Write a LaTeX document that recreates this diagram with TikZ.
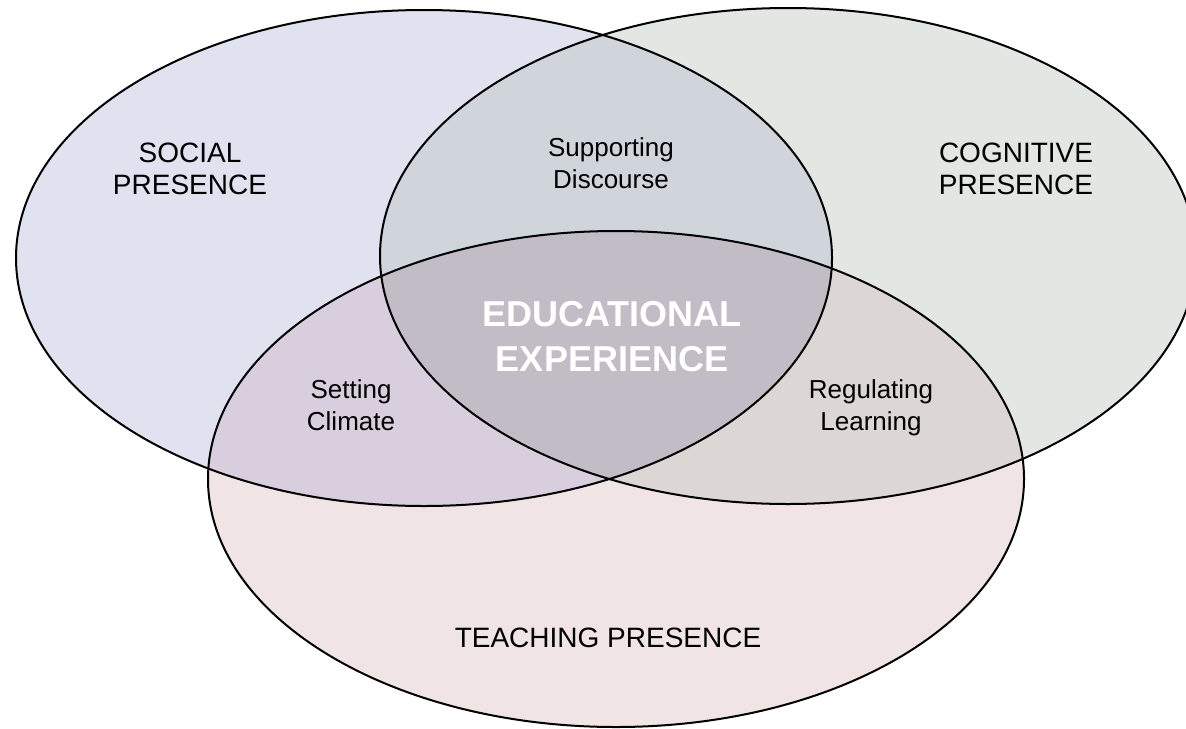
\documentclass[tikz,border=0pt]{standalone}
\usepackage{fontspec}
\setmainfont{Liberation Sans}
\usepackage{tikz}

\definecolor{socialfill}{RGB}{225,226,240}
\definecolor{cognitivefill}{RGB}{227,231,227}
\definecolor{teachingfill}{RGB}{241,228,229}
\definecolor{discoursefill}{RGB}{208,213,219}
\definecolor{climatefill}{RGB}{217,206,221}
\definecolor{learningfill}{RGB}{220,214,212}
\definecolor{corefill}{RGB}{193,188,197}

\begin{document}
\begin{tikzpicture}[x=0.5pt, y=-0.5pt,
    oval/.style = {x radius=408, y radius=248},
    ring/.style = {draw=black, line width=1pt},
    presence/.style = {align=center, inner sep=0pt, font=\fontsize{14}{16}\selectfont},
    overlap/.style = {align=center, inner sep=0pt, font=\fontsize{13}{16}\selectfont},
    core/.style = {align=center, inner sep=0pt, text=white, font=\bfseries\fontsize{18}{22.5}\selectfont}]
    \clip (0,0) rectangle (1186,728);
    \coordinate (soc) at (424,258);
    \coordinate (cog) at (788,256);
    \coordinate (tea) at (616,479);

    % single sets
    \fill[socialfill] (soc) ellipse [oval];
    \fill[cognitivefill] (cog) ellipse [oval];
    \fill[teachingfill] (tea) ellipse [oval];

    % pairwise overlaps
    \begin{scope}
        \clip (soc) ellipse [oval];
        \fill[discoursefill] (cog) ellipse [oval];
        \fill[climatefill] (tea) ellipse [oval];
    \end{scope}
    \begin{scope}
        \clip (cog) ellipse [oval];
        \fill[learningfill] (tea) ellipse [oval];
    \end{scope}
    \begin{scope}
        \clip (soc) ellipse [oval];
        \clip (cog) ellipse [oval];
        \fill[corefill] (tea) ellipse [oval];
    \end{scope}

    % outlines
    \path[ring] (soc) ellipse [oval];
    \path[ring] (cog) ellipse [oval];
    \path[ring] (tea) ellipse [oval];

    \node[presence] (social) at (190,169) {SOCIAL\\PRESENCE};
    \node[presence] (cognitive) at (1016,169) {COGNITIVE\\PRESENCE};
    \node[presence] (teaching) at (608,638) {TEACHING PRESENCE};
    \node[overlap] (discourse) at (611,163) {Supporting\\Discourse};
    \node[overlap] (climate) at (351,405) {Setting\\Climate};
    \node[overlap] (learning) at (871,408) {Regulating\\Learning};
    \node[core] (experience) at (612,337) {EDUCATIONAL\\EXPERIENCE};
\end{tikzpicture}
\end{document}
